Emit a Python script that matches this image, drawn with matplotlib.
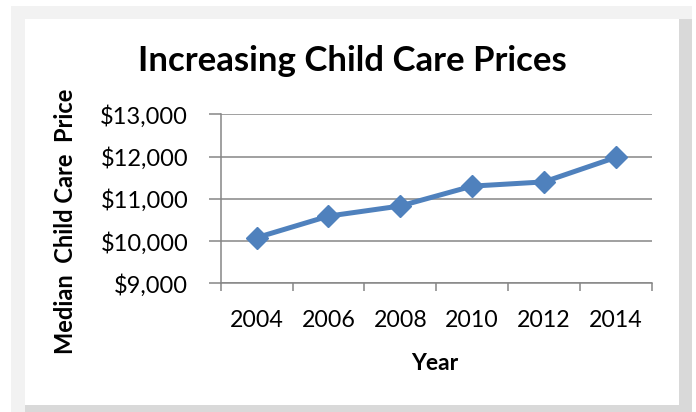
import numpy as np
import matplotlib.pyplot as plt
from matplotlib.patches import Rectangle

years = ['2004', '2006', '2008', '2010', '2012', '2014']
prices = [10080, 10590, 10830, 11300, 11400, 11980]
yticks = [9000, 10000, 11000, 12000, 13000]

W, H = 696, 412
fig = plt.figure(figsize=(W / 100, H / 100), dpi=100)
fig.patch.set_facecolor('white')
plt.rcParams['font.family'] = ['Lato', 'DejaVu Sans']


def px_rect(x0, y0, x1, y1, color):
    # rectangle in pixel coords (origin top-left)
    fig.patches.append(Rectangle((x0 / W, 1 - y1 / H), (x1 - x0) / W, (y1 - y0) / H,
                                 transform=fig.transFigure, facecolor=color,
                                 edgecolor='none', zorder=-10))


# frame with shadow look
px_rect(11, 6, 692, 412, '#f2f2f2')
px_rect(679, 19, 692, 412, '#d9d9d9')
px_rect(25, 405, 692, 412, '#d9d9d9')
px_rect(25, 19, 679, 405, 'white')

ax = fig.add_axes([220.7 / W, 1 - 283.3 / H, 431 / W, 169 / H])
ax.set_facecolor('none')

x = np.arange(len(years))
ax.plot(x, prices, color='#4f81bd', linewidth=3.6, marker='D', markersize=11,
        markeredgecolor='#4f81bd', zorder=3, clip_on=False)

grid_c = '#868686'
ax.set_xlim(-0.5, len(years) - 0.5)
ax.set_ylim(9000, 13000)
ax.set_yticks(yticks)
ax.set_yticklabels(['${:,}'.format(v) for v in yticks])
ax.yaxis.grid(True, color=grid_c, linewidth=1.1)
ax.set_axisbelow(True)

ax.set_xticks(np.arange(-0.5, len(years)), labels=[])
ax.set_xticks(x, labels=years, minor=True)
ax.tick_params(axis='x', which='major', length=6, width=1.1, color=grid_c)
ax.tick_params(axis='x', which='minor', length=0, pad=19, labelsize=16.7)
ax.tick_params(axis='y', length=8.4, width=1.1, color=grid_c, pad=15, labelsize=17)

for s in ['top', 'right']:
    ax.spines[s].set_visible(False)
for s in ['left', 'bottom']:
    ax.spines[s].set_color(grid_c)
    ax.spines[s].set_linewidth(1.1)

fig.text(352 / W, 1 - 71 / H, 'Increasing Child Care Prices', ha='center', va='baseline',
         fontsize=25, fontweight='bold')
fig.text(66 / W, 1 - 221 / H, 'Median  Child Care  Price', rotation=90, ha='center',
         va='center', fontsize=17, fontweight='bold')
fig.text(435 / W, 1 - 363 / H, 'Year', ha='center', va='center', fontsize=16.5,
         fontweight='bold')

fig.savefig('out.png', dpi=100)
